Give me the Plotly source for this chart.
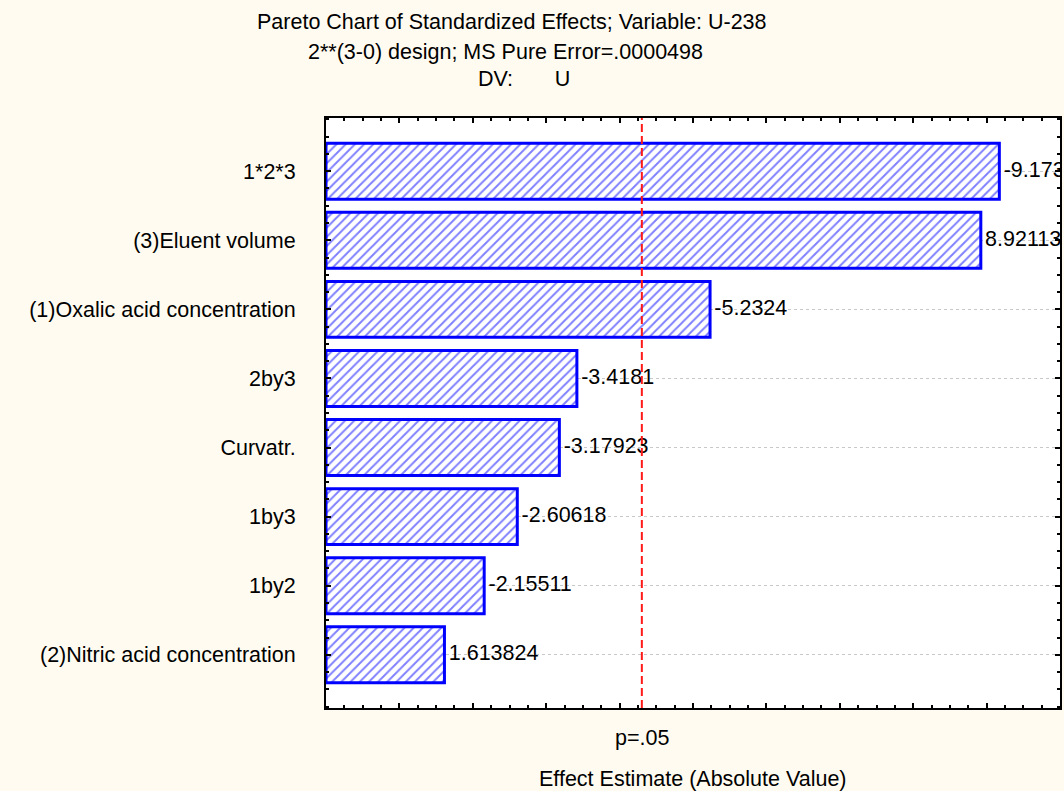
import plotly.graph_objects as go

effects = ["1*2*3", "(3)Eluent volume", "(1)Oxalic acid concentration", "2by3",
           "Curvatr.", "1by3", "1by2", "(2)Nitric acid concentration"]
estimates = [-9.1736, 8.92113, -5.2324, -3.4181, -3.17923, -2.60618, -2.15511, 1.613824]
p_crit = 4.303
x_major = list(range(0, 11))

pos = list(range(len(effects)))
absval = [abs(v) for v in estimates]
labels = ["\u2009" + str(v) for v in estimates]

font = dict(family="Liberation Sans, Arial", size=21.5, color="black")
bg = "#fffbf0"

fig = go.Figure()
fig.add_trace(go.Bar(
    x=absval, y=pos, orientation="h", width=0.81,
    marker=dict(color="white",
                line=dict(color="#0000ff", width=3),
                pattern=dict(shape="/", fgcolor="#0000ff", bgcolor="white",
                             size=6.5, solidity=0.3)),
    hoverinfo="skip", showlegend=False,
))
fig.add_trace(go.Scatter(
    x=absval, y=pos, mode="text", text=labels, textposition="middle right",
    textfont=font, cliponaxis=True, showlegend=False, hoverinfo="skip",
))

fig.add_shape(type="line", x0=p_crit, x1=p_crit, y0=0, y1=1, yref="paper",
              line=dict(color="#ff1a1a", width=2, dash="8px,4px"), layer="above")

fig.add_annotation(x=p_crit, y=-0.05, xref="x", yref="paper", xanchor="center",
                   yanchor="middle", text="p=.05", showarrow=False, font=font)
fig.add_annotation(x=0.5, y=-0.12, xref="paper", yref="paper", xanchor="center",
                   yanchor="middle", text="Effect Estimate (Absolute Value)",
                   showarrow=False, font=font)

titles = ["Pareto Chart of Standardized Effects; Variable: U-238",
          "2**(3-0) design; MS Pure Error=.0000498",
          "DV:" + "\u00a0" * 7 + "U"]
title_x = [0.254, 0.245, 0.27]
title_y = [1.163, 1.112, 1.066]
for t, tx, ty in zip(titles, title_x, title_y):
    fig.add_annotation(x=tx, y=ty, xref="paper", yref="paper", text=t,
                       showarrow=False, font=font, xanchor="center", yanchor="middle")

fig.update_layout(
    width=1064, height=791,
    margin=dict(l=326, r=2, t=118, b=83),
    paper_bgcolor=bg, plot_bgcolor="white",
    font=font, bargap=0.2,
)
fig.update_xaxes(
    range=[0, 10], tickvals=x_major, showticklabels=False,
    ticks="inside", ticklen=5, tickwidth=2, tickcolor="black",
    minor=dict(dtick=0.25, tick0=0, ticks="inside", ticklen=3, tickwidth=2,
               tickcolor="black", showgrid=False),
    showline=True, linecolor="black", linewidth=2, mirror="ticks",
    showgrid=False, zeroline=False,
)
fig.update_yaxes(
    range=[7.77, -0.77], tickmode="array", tickvals=pos, ticktext=effects,
    ticks="inside", ticklen=5, tickwidth=2, tickcolor="black",
    ticklabelstandoff=24,
    minor=dict(tickmode="linear", dtick=0.25, tick0=0, ticks="inside", ticklen=3,
               tickwidth=2, tickcolor="black", showgrid=False),
    showline=True, linecolor="black", linewidth=2, mirror="ticks",
    showgrid=True, gridcolor="#c8c8c8", griddash="dot", gridwidth=1,
    zeroline=False,
)

fig.write_html("out.html", config={"displayModeBar": False},
               post_script="document.body.style.margin='0';")
